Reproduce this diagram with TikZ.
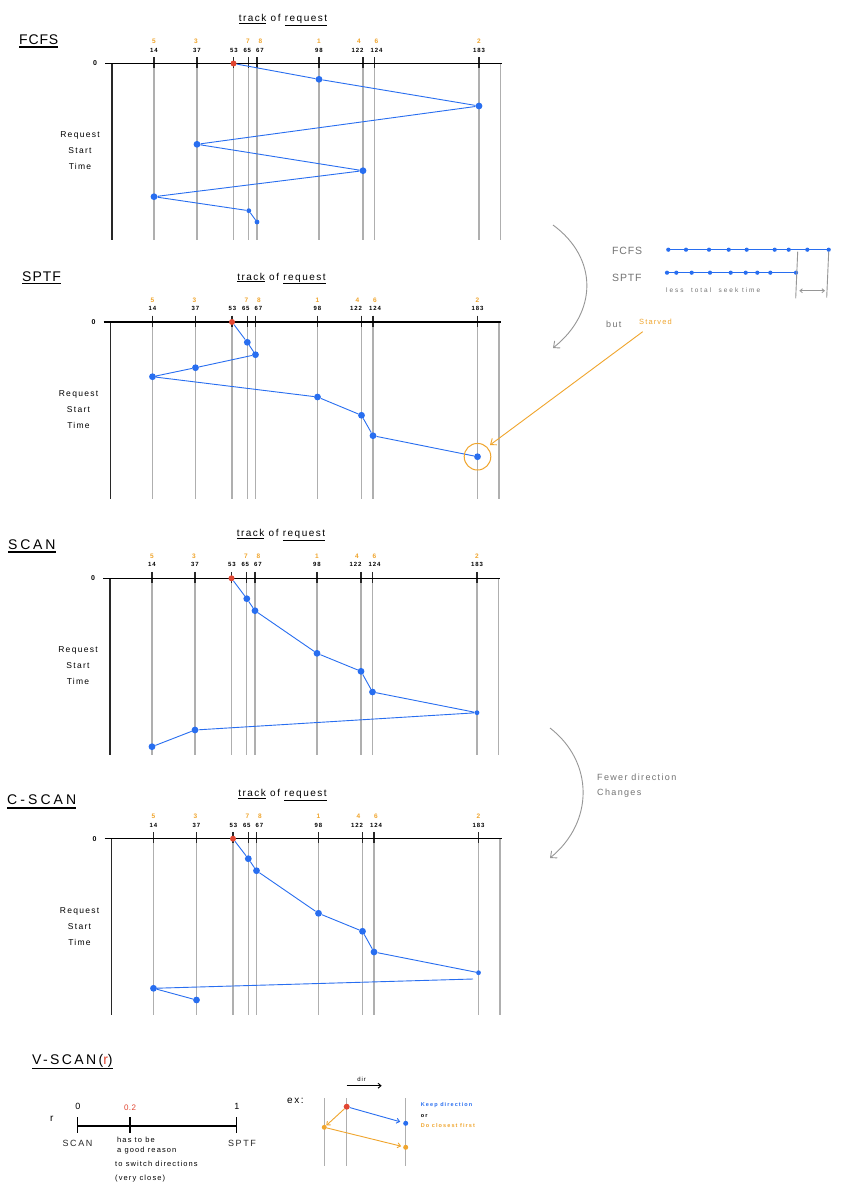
\documentclass[tikz,border=0pt]{standalone}
\usepackage{fontspec}
\setmainfont{Liberation Sans}
\newfontfamily\hand[LetterSpace=15]{Liberation Sans}
\usetikzlibrary{arrows.meta}
\definecolor{blueC}{RGB}{40,110,240}
\definecolor{orangeC}{RGB}{240,165,45}
\definecolor{redC}{RGB}{225,70,50}
\definecolor{grayL}{RGB}{175,175,175}
\definecolor{grayT}{RGB}{115,115,115}
\definecolor{grayA}{RGB}{150,150,150}
\definecolor{darkL}{RGB}{40,40,40}

\newcommand\chartframe[2]{%
 \foreach \xx in {154,197,233.5,248.8,257,319,363,374.5,479}{%
   \draw[gline] (\xx,#1) -- (\xx,#1+176.5);
   \draw[tickline] (\xx,#1-6.5) -- (\xx,#1+4.5);
 }
 \draw[gline] (500.5,#1) -- (500.5,#1+176.5);
 \draw[lborder] (112,#1) -- (112,#1+176.5);
 \draw[axisline] (105,#1) -- (502,#1);
 \node[zlbl] (#2zero) at (95,#1) {0};
 \node[numlbl] (#2n14) at (154,#1-13.5) {14};
 \node[numlbl] (#2n37) at (197,#1-13.5) {37};
 \node[numlbl] (#2n53) at (234,#1-13.5) {53};
 \node[numlbl] (#2n65) at (247.3,#1-13.5) {65};
 \node[numlbl] (#2n67) at (260,#1-13.5) {67};
 \node[numlbl] (#2n98) at (319,#1-13.5) {98};
 \node[numlbl] (#2n122) at (357.5,#1-13.5) {122};
 \node[numlbl] (#2n124) at (376.5,#1-13.5) {124};
 \node[numlbl] (#2n183) at (479,#1-13.5) {183};
 \node[ordlbl] (#2o5) at (154,#1-22) {5};
 \node[ordlbl] (#2o3) at (196,#1-22) {3};
 \node[ordlbl] (#2o7) at (248,#1-22) {7};
 \node[ordlbl] (#2o8) at (260.5,#1-22) {8};
 \node[ordlbl] (#2o1) at (319,#1-22) {1};
 \node[ordlbl] (#2o4) at (359,#1-22) {4};
 \node[ordlbl] (#2o6) at (376.5,#1-22) {6};
 \node[ordlbl] (#2o2) at (479,#1-22) {2};
 \node[tracklbl] (#2track) at (283,#1-43.5) {\underline{track} of \underline{request}};
 \node[rstlbl] (#2rst) at (80,#1+87.5) {Request\\Start\\Time};
}

\begin{document}
\begin{tikzpicture}[x=1pt,y=-1pt,
  gline/.style={draw=grayL, line width=1.2pt},
  tickline/.style={draw=darkL, line width=1.3pt},
  lborder/.style={draw=darkL, line width=1.3pt},
  axisline/.style={draw=black, line width=1.2pt},
  bline/.style={draw=blueC, line width=0.9pt},
  bdot/.style={circle, fill=blueC, inner sep=0pt, minimum size=6.8pt},
  sdot/.style={circle, fill=blueC, inner sep=0pt, minimum size=4.8pt},
  cdot/.style={circle, fill=blueC, inner sep=0pt, minimum size=4.2pt},
  rdot/.style={circle, fill=redC, inner sep=0pt, minimum size=6pt},
  odot/.style={circle, fill=orangeC, inner sep=0pt, minimum size=5pt},
  numlbl/.style={font=\hand\bfseries\fontsize{6}{7}\selectfont, inner sep=0pt},
  ordlbl/.style={font=\hand\bfseries\fontsize{6.5}{7}\selectfont, inner sep=0pt, text=orangeC},
  zlbl/.style={font=\hand\bfseries\fontsize{7}{8}\selectfont, inner sep=0pt},
  tracklbl/.style={font=\hand\fontsize{10}{12}\selectfont, inner sep=0pt},
  rstlbl/.style={font=\hand\fontsize{8.5}{16}\selectfont, align=center, inner sep=0pt},
  ttl/.style={font=\fontsize{14}{16}\selectfont, anchor=west, inner sep=0pt},
  uline/.style={draw=black, line width=1.4pt},
  gtext/.style={text=grayT, inner sep=0pt, anchor=west},
  garrow/.style={draw=grayA, line width=0.9pt, -{Straight Barb[length=5pt,width=9pt]}},
  oarrow/.style={draw=orangeC, line width=0.9pt, -{Straight Barb[length=5pt,width=8pt]}},
  small/.style={font=\hand\fontsize{7.5}{9}\selectfont, inner sep=0pt, anchor=west},
  tiny/.style={font=\hand\bfseries\fontsize{5.5}{7}\selectfont\addfontfeature{LetterSpace=20}, inner sep=0pt, anchor=west},
]
\fill[white] (0,0) rectangle (855,1194);
\path[use as bounding box] (0,0) rectangle (855,1194);

% ================= FCFS =================
\node[ttl] (tFCFS) at (19,40) {\addfontfeature{LetterSpace=6}FCFS};
\draw[uline] ([yshift=-7pt]tFCFS.west) -- ([yshift=-7pt]tFCFS.east);
\chartframe{63.5}{F}
\node[rdot] (f0) at (233.5,63.5) {};
\node[bdot] (f1) at (319,79.3) {};
\node[bdot] (f2) at (479,106) {};
\node[bdot] (f3) at (197,144.3) {};
\node[bdot] (f4) at (363,170.7) {};
\node[bdot] (f5) at (154,196.7) {};
\node[sdot] (f6) at (248.8,210.7) {};
\node[sdot] (f7) at (257,222) {};
\draw[bline] (f0) -- (f1) -- (f2) -- (f3) -- (f4) -- (f5) -- (f6) -- (f7);

% ================= SPTF =================
\node[ttl] (tSPTF) at (22,277) {\addfontfeature{LetterSpace=7}SPTF};
\draw[uline] ([yshift=-6.5pt]tSPTF.west) -- ([yshift=-6.5pt]tSPTF.east);
\begin{scope}[xshift=-1.5pt]
\chartframe{322}{S}
\node[rdot] (s0) at (233.5,322) {};
\node[bdot] (s1) at (248.8,342.3) {};
\node[bdot] (s2) at (257,354.7) {};
\node[bdot] (s3) at (197,367.7) {};
\node[bdot] (s4) at (154,376.7) {};
\node[bdot] (s5) at (319,397) {};
\node[bdot] (s6) at (363,415.3) {};
\node[bdot] (s7) at (374.5,435.7) {};
\node[bdot] (s8) at (479,456.7) {};
\draw[bline] (s0) -- (s1) -- (s2) -- (s3) -- (s4) -- (s5) -- (s6) -- (s7) -- (s8);
\node[circle, draw=orangeC, line width=1pt, minimum size=26.6pt, inner sep=0pt] (starc) at (479,456.7) {};
\end{scope}

% ================= SCAN =================
\node[ttl] (tSCAN) at (8,545) {\addfontfeature{LetterSpace=20}SCAN};
\draw[uline] ([yshift=-7pt]tSCAN.west) -- ([yshift=-7pt]tSCAN.east);
\begin{scope}[xshift=-2pt]
\chartframe{578.3}{C}
\node[rdot] (c0) at (233.5,578.3) {};
\node[bdot] (c1) at (248.8,598.7) {};
\node[bdot] (c2) at (257,610.7) {};
\node[bdot] (c3) at (319,653.3) {};
\node[bdot] (c4) at (363,671.3) {};
\node[bdot] (c5) at (374.5,692) {};
\node[sdot] (c6) at (479,712.7) {};
\node[bdot] (c7) at (197,730) {};
\node[bdot] (c8) at (154,746.7) {};
\draw[bline] (c0) -- (c1) -- (c2) -- (c3) -- (c4) -- (c5) -- (c6) -- (c7) -- (c8);
\end{scope}

% ================= C-SCAN =================
\node[ttl] (tCSCAN) at (7,800) {\addfontfeature{LetterSpace=22}C-SCAN};
\draw[uline] ([yshift=-8pt]tCSCAN.west) -- ([yshift=-8pt]tCSCAN.east);
\begin{scope}[xshift=-0.5pt]
\chartframe{838.7}{D}
\node[rdot] (d0) at (233.5,838.7) {};
\node[bdot] (d1) at (248.8,858.7) {};
\node[bdot] (d2) at (257,870.7) {};
\node[bdot] (d3) at (319,913.3) {};
\node[bdot] (d4) at (363,931.3) {};
\node[bdot] (d5) at (374.5,952) {};
\node[sdot] (d6) at (479,972.7) {};
\coordinate (d6b) at (473.5,979);
\node[bdot] (d7) at (154,988.3) {};
\node[bdot] (d8) at (197,1000) {};
\draw[bline] (d0) -- (d1) -- (d2) -- (d3) -- (d4) -- (d5) -- (d6);
\draw[bline] (d6b) -- (d7) -- (d8);
\end{scope}

% ================= right annotations =================
\coordinate (ca1) at (553,225);
\coordinate (ca2) at (553,348);
\draw[garrow] (ca1) .. controls (598,258) and (598,312) .. (ca2);
\coordinate (cb1) at (550,728);
\coordinate (cb2) at (550,858);
\draw[garrow] (cb1) .. controls (594,762) and (594,822) .. (cb2);
\node[gtext, font=\hand\fontsize{9}{11}\selectfont] (fewer) at (597,777) {Fewer direction};
\node[gtext, font=\hand\fontsize{9}{11}\selectfont] (changes) at (597,793) {Changes};

\node[gtext, font=\fontsize{10.5}{12}\selectfont\addfontfeature{LetterSpace=8}] (cmpF) at (612,251) {FCFS};
\node[gtext, font=\fontsize{10.5}{12}\selectfont\addfontfeature{LetterSpace=8}] (cmpS) at (612,277.7) {SPTF};
\foreach \xx [count=\i] in {668.3,686,709,728.7,746.7,774.7,788.7,807.3,828.7}
  \node[cdot] (cf\i) at (\xx,249.7) {};
\draw[draw=blueC, line width=1.5pt] (cf1.center) -- (cf9.center);
\foreach \xx [count=\i] in {667,676.3,691.7,710,730.7,745.7,757.3,770.3,796}
  \node[cdot] (cs\i) at (\xx,272.7) {};
\draw[draw=blueC, line width=1.5pt] (cs1.center) -- (cs9.center);
\coordinate (vl1a) at (797.7,251.7);
\coordinate (vl1b) at (795.7,298.3);
\coordinate (vl2a) at (828.7,251.7);
\coordinate (vl2b) at (826.7,297.7);
\draw[draw=grayA, line width=0.9pt] (vl1a) -- (vl1b);
\draw[draw=grayA, line width=0.9pt] (vl2a) -- (vl2b);
\coordinate (da1) at (799.3,290.7);
\coordinate (da2) at (825,290.7);
\draw[draw=grayA, line width=0.8pt, {Straight Barb[length=2.5pt,width=4pt]}-{Straight Barb[length=2.5pt,width=4pt]}] (da1) -- (da2);
\node[gtext, font=\fontsize{6.5}{8}\selectfont\addfontfeature{LetterSpace=30}] (lesst) at (666,290) {less\ \ total\ \ seek\ time};
\node[gtext, font=\hand\fontsize{9}{11}\selectfont] (but) at (606,324) {but};
\node[text=orangeC, inner sep=0pt, anchor=west, font=\hand\fontsize{7.5}{9}\selectfont] (starved) at (639,321.7) {Starved};
\coordinate (stA) at (642.7,331.7);
\coordinate (stB) at (490,445);
\draw[oarrow] (stA) -- (stB);

% ================= V-SCAN(r) =================
\node[ttl] (tV) at (32,1060.7) {\addfontfeature{LetterSpace=17}V-SCAN(\textcolor{redC}{r})};
\draw[uline] ([yshift=-7.5pt]tV.west) -- ([yshift=-7.5pt]tV.east);
\node[font=\hand\fontsize{10}{12}\selectfont, inner sep=0pt] (rlbl) at (51.7,1119) {r};
\coordinate (sc0) at (77.7,1126);
\coordinate (sc1) at (236.7,1126);
\draw[axisline] (sc0) -- (sc1);
\draw[axisline] (77.7,1117.3) -- (77.7,1132.7);
\draw[axisline] (130,1117.3) -- (130,1132.7);
\draw[axisline] (236.7,1117.3) -- (236.7,1132.7);
\node[font=\hand\fontsize{9}{11}\selectfont, inner sep=0pt] (v0) at (78,1106.7) {0};
\node[font=\fontsize{8}{10}\selectfont\addfontfeature{LetterSpace=5}, inner sep=0pt, text=redC] (v02) at (130,1107.5) {0.2};
\node[font=\hand\fontsize{9}{11}\selectfont, inner sep=0pt] (v1) at (237,1106.7) {1};
\node[font=\fontsize{9}{11}\selectfont\addfontfeature{LetterSpace=18}, inner sep=0pt, text=darkL] (vscan) at (77.5,1143.3) {SCAN};
\node[font=\fontsize{9}{11}\selectfont\addfontfeature{LetterSpace=18}, inner sep=0pt, text=darkL] (vsptf) at (242,1143.3) {SPTF};
\node[small] (h1) at (117,1140) {has to be};
\node[small] (h2) at (117,1150.5) {a good reason};
\node[small] (h3) at (115,1164) {to switch directions};
\node[small] (h4) at (115,1178.5) {(very close)};

\node[font=\hand\fontsize{10}{12}\selectfont, inner sep=0pt, anchor=west] (ex) at (287,1101) {ex:};
\coordinate (dirA) at (346.7,1085.7);
\coordinate (dirB) at (381.7,1085.7);
\draw[draw=black, line width=0.9pt, -{Straight Barb[length=3pt,width=5pt]}] (dirA) -- (dirB);
\node[font=\hand\fontsize{6}{7}\selectfont, inner sep=0pt] (dirl) at (361.7,1079) {dir};
\draw[gline] (324.3,1098.3) -- (324.3,1166);
\draw[gline] (346.7,1098.3) -- (346.7,1166);
\draw[gline] (405.7,1098.3) -- (405.7,1166);
\node[rdot] (vr) at (346.7,1106.7) {};
\node[cdot, minimum size=5pt] (vb) at (405.7,1123.3) {};
\node[odot] (vo1) at (324.3,1127.3) {};
\node[odot] (vo2) at (405.7,1147.3) {};
\draw[draw=blueC, line width=0.9pt, shorten >=3pt, -{Straight Barb[length=3pt,width=5pt]}] (vr) -- (vb);
\draw[draw=orangeC, line width=0.9pt, -{Straight Barb[length=3pt,width=5pt]}] (vr) -- (vo1);
\draw[draw=orangeC, line width=0.9pt, shorten >=2pt, -{Straight Barb[length=3pt,width=5pt]}] (vo1) -- (vo2);
\node[tiny, text=blueC] (keep) at (420.7,1105) {Keep direction};
\node[tiny] (orl) at (420.7,1116) {or};
\node[tiny, text=orangeC] (closest) at (420.7,1126) {Do closest first};
\end{tikzpicture}
\end{document}
